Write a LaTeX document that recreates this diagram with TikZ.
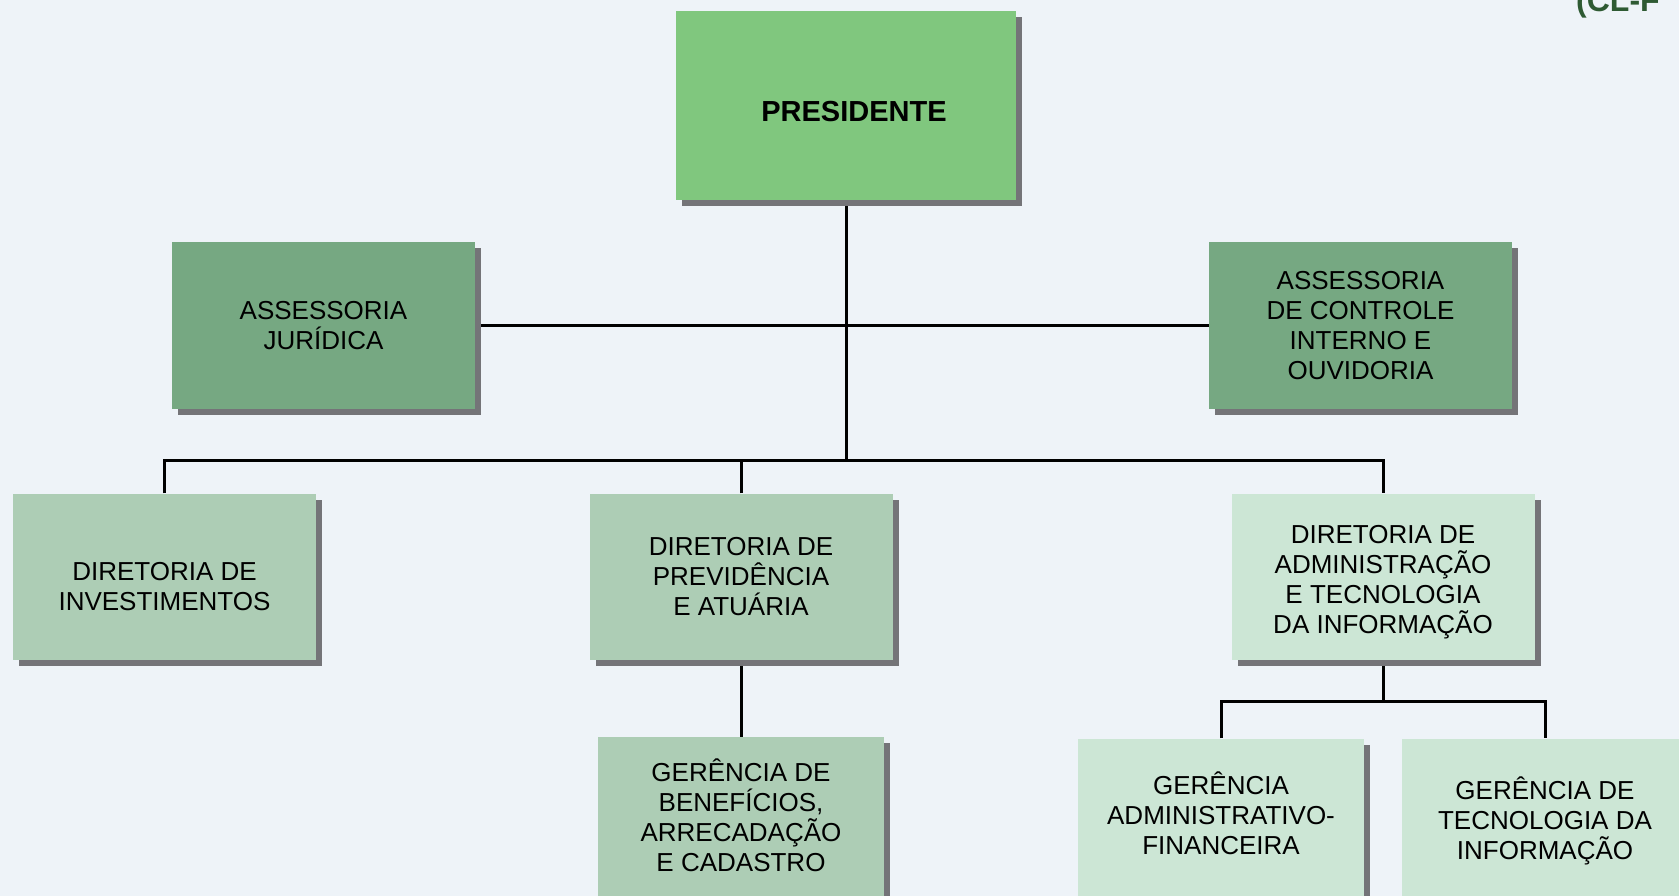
\documentclass[tikz,border=0pt]{standalone}
\usepackage{xcolor}
\usepackage{tikz}
\usetikzlibrary{shadows, backgrounds}
\usepackage{fontspec}
\setmainfont{Liberation Sans}

\definecolor{presgreen}{HTML}{80C77E}
\definecolor{assgreen}{HTML}{76A882}
\definecolor{dirgreen}{HTML}{ADCDB5}
\definecolor{lightgreen}{HTML}{CCE6D5}
\definecolor{shadowgray}{HTML}{747478}
\definecolor{bgblue}{HTML}{EEF3F8}
\definecolor{titlegreen}{HTML}{2E5A33}

\begin{document}
\begin{tikzpicture}[x=1pt, y=-1pt,
				orgline/.style={line width=3pt, line join=miter, black},
				orgbox/.style={inner sep=0pt, align=center,
					font=\fontsize{26}{30}\selectfont,
					minimum width=303pt, minimum height=166pt,
					drop shadow={shadow xshift=6pt, shadow yshift=-6pt, fill=shadowgray, opacity=1}},
				gerbox/.style={orgbox, minimum width=286pt, minimum height=165pt}]
				\useasboundingbox (0,0) rectangle (1679,896);
				\clip (0,0) rectangle (1679,896);
				% title, cut by the page
				\node at (1576,12) (title) [anchor=base west, inner sep=0pt, text=titlegreen,
					font=\bfseries\fontsize{32}{36}\selectfont] {(CL-F};
				% top
				\node at (846,105.5) (pres) [orgbox, fill=presgreen, minimum width=340pt, minimum height=189pt,
					font=\bfseries\fontsize{29}{34}\selectfont] {\hspace*{16pt}\rule{0pt}{33pt}PRESIDENTE};
				\node at (323.5,325.5) (asjur) [orgbox, fill=assgreen] {ASSESSORIA\\JURÍDICA};
				\node at (1360.5,325.5) (ascon) [orgbox, fill=assgreen] {ASSESSORIA\\DE CONTROLE\\INTERNO E\\OUVIDORIA};
				% diretorias
				\node at (164.5,576.5) (dirinv) [orgbox, fill=dirgreen] {\rule{0pt}{38pt}DIRETORIA DE\\INVESTIMENTOS};
				\node at (741,576.5) (dirprev) [orgbox, fill=dirgreen] {DIRETORIA DE\\PREVIDÊNCIA\\E ATUÁRIA};
				\node at (1383,576.5) (diradm) [orgbox, fill=lightgreen] {\rule{0pt}{30pt}DIRETORIA DE\\ADMINISTRAÇÃO\\E TECNOLOGIA\\DA INFORMAÇÃO};
				% gerencias
				\node at (741,819.5) (gerben) [gerbox, fill=dirgreen] {GERÊNCIA DE\\BENEFÍCIOS,\\ARRECADAÇÃO\\E CADASTRO\rule[-9pt]{0pt}{9pt}};
				\node at (1221,821) (geradm) [gerbox, fill=lightgreen] {GERÊNCIA\\ADMINISTRATIVO-\\FINANCEIRA\rule[-15pt]{0pt}{15pt}};
				\node at (1545,821) (gertec) [gerbox, fill=lightgreen] {GERÊNCIA DE\\TECNOLOGIA DA\\INFORMAÇÃO};
				\coordinate (bus) at (846,460);
				\coordinate (subbus) at (1383,701);
				\begin{scope}[on background layer]
					\fill[bgblue] (0,0) rectangle (1679,896);
					\draw[orgline] (pres) -- (bus);
					\draw[orgline] (asjur) -- (ascon);
					\draw[orgline] (dirinv.north) |- (bus) -| (diradm.north);
					\draw[orgline] (dirprev.north) -- (dirprev.north |- bus);
					\draw[orgline] (dirprev) -- (gerben);
					\draw[orgline] (diradm) -- (subbus);
					\draw[orgline] (geradm.north) |- (subbus) -| (gertec.north);
				\end{scope}
			\end{tikzpicture}
\end{document}
